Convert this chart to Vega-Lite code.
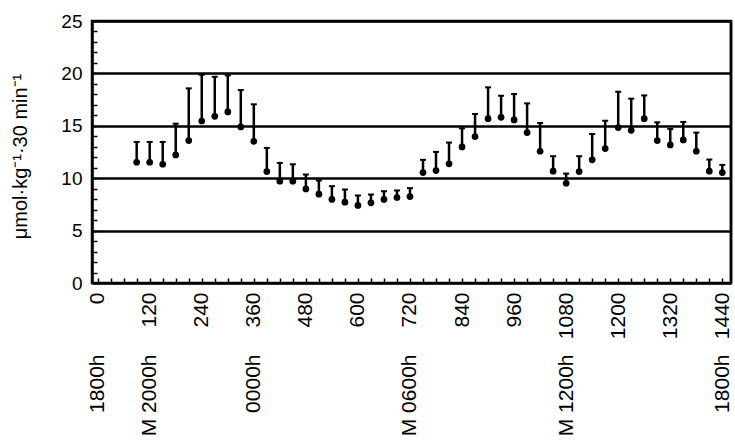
{
  "$schema": "https://vega.github.io/schema/vega-lite/v6.json",
  "width": 639,
  "height": 262,
  "autosize": {"type": "none"},
  "padding": {"left": 92, "top": 21, "right": 4, "bottom": 163},
  "background": "white",
  "config": {
    "view": {"stroke": "black", "strokeWidth": 2.5},
    "font": "Liberation Sans",
    "axis": {"labelColor": "black", "titleColor": "black", "labelFont": "Liberation Sans", "titleFont": "Liberation Sans", "tickColor": "black", "domainColor": "black"}
  },
  "data": {
    "values": [
      {"t": 90, "mean": 11.52, "upper": 13.46},
      {"t": 120, "mean": 11.52, "upper": 13.46},
      {"t": 150, "mean": 11.33, "upper": 13.46},
      {"t": 180, "mean": 12.22, "upper": 15.2},
      {"t": 210, "mean": 13.59, "upper": 18.57},
      {"t": 240, "mean": 15.46, "upper": 19.87},
      {"t": 270, "mean": 15.9, "upper": 19.68},
      {"t": 300, "mean": 16.32, "upper": 19.81},
      {"t": 330, "mean": 14.89, "upper": 18.41},
      {"t": 360, "mean": 13.52, "upper": 17.05},
      {"t": 390, "mean": 10.63, "upper": 12.89},
      {"t": 420, "mean": 9.71, "upper": 11.46},
      {"t": 450, "mean": 9.71, "upper": 11.33},
      {"t": 480, "mean": 8.98, "upper": 10.35},
      {"t": 510, "mean": 8.48, "upper": 9.78},
      {"t": 540, "mean": 7.97, "upper": 9.24},
      {"t": 570, "mean": 7.71, "upper": 8.92},
      {"t": 600, "mean": 7.4, "upper": 8.35},
      {"t": 630, "mean": 7.65, "upper": 8.44},
      {"t": 660, "mean": 7.97, "upper": 8.76},
      {"t": 690, "mean": 8.16, "upper": 8.83},
      {"t": 720, "mean": 8.25, "upper": 9.05},
      {"t": 750, "mean": 10.54, "upper": 11.75},
      {"t": 780, "mean": 10.73, "upper": 12.51},
      {"t": 810, "mean": 11.37, "upper": 13.4},
      {"t": 840, "mean": 12.98, "upper": 14.76},
      {"t": 870, "mean": 13.97, "upper": 16.13},
      {"t": 900, "mean": 15.68, "upper": 18.67},
      {"t": 930, "mean": 15.81, "upper": 17.87},
      {"t": 960, "mean": 15.56, "upper": 18.03},
      {"t": 990, "mean": 14.35, "upper": 17.14},
      {"t": 1020, "mean": 12.57, "upper": 15.27},
      {"t": 1050, "mean": 10.67, "upper": 12.1},
      {"t": 1080, "mean": 9.52, "upper": 10.44},
      {"t": 1110, "mean": 10.63, "upper": 12.1},
      {"t": 1140, "mean": 11.75, "upper": 14.22},
      {"t": 1170, "mean": 12.83, "upper": 15.49},
      {"t": 1200, "mean": 14.83, "upper": 18.25},
      {"t": 1230, "mean": 14.57, "upper": 17.59},
      {"t": 1260, "mean": 15.68, "upper": 17.9},
      {"t": 1290, "mean": 13.59, "upper": 15.33},
      {"t": 1320, "mean": 13.17, "upper": 14.7},
      {"t": 1350, "mean": 13.65, "upper": 15.37},
      {"t": 1380, "mean": 12.57, "upper": 14.35},
      {"t": 1410, "mean": 10.67, "upper": 11.78},
      {"t": 1440, "mean": 10.54, "upper": 11.27}
    ]
  },
  "layer": [
    {
      "mark": {"type": "rule", "color": "black", "strokeWidth": 2.5},
      "encoding": {
        "x": {
          "field": "t", "type": "quantitative",
          "scale": {"domain": [-13, 1460], "nice": false, "zero": false},
          "axis": {
            "orient": "bottom",
            "title": null,
            "values": [0,30,60,90,120,150,180,210,240,270,300,330,360,390,420,450,480,510,540,570,600,630,660,690,720,750,780,810,840,870,900,930,960,990,1020,1050,1080,1110,1140,1170,1200,1230,1260,1290,1320,1350,1380,1410,1440],
            "tickCount": 500,
            "format": "d",
            "labelExpr": "datum.value % 120 === 0 ? datum.label : ''",
            "labelAngle": -90,
            "labelFontSize": 21,
            "labelPadding": 14,
            "labelOverlap": false,
            "labelFlush": false,
            "ticks": true,
            "tickSize": -5,
            "tickWidth": 1.5,
            "domain": true,
            "domainWidth": 2.5,
            "grid": false
          }
        },
        "y": {
          "field": "mean", "type": "quantitative",
          "scale": {"domain": [0, 25], "nice": false, "zero": true},
          "axis": {
            "orient": "left",
            "title": "μmol·kg⁻¹·30 min⁻¹",
            "titleFontSize": 20,
            "titleFontWeight": "normal",
            "titleAngle": -90,
            "titleX": -72,
            "titleY": 135,
            "titleAlign": "center",
            "titleBaseline": "middle",
            "values": [0,1,2,3,4,5,6,7,8,9,10,11,12,13,14,15,16,17,18,19,20,21,22,23,24,25],
            "tickCount": 500,
            "format": "d",
            "labelExpr": "datum.value % 5 === 0 ? datum.label : ''",
            "labelFontSize": 19,
            "labelPadding": 15,
            "labelOverlap": false,
            "labelFlush": false,
            "ticks": true,
            "tickSize": -5,
            "tickWidth": 1.5,
            "domain": true,
            "domainWidth": 2.5,
            "grid": true,
            "gridColor": "black",
            "gridWidth": 2.5,
            "gridOpacity": {"condition": {"test": "datum.value % 5 === 0 && datum.value > 0", "value": 1}, "value": 0}
          }
        },
        "y2": {"field": "upper"}
      }
    },
    {
      "mark": {"type": "tick", "orient": "horizontal", "color": "black", "thickness": 2, "size": 6, "opacity": 1},
      "encoding": {
        "x": {"field": "t", "type": "quantitative", "axis": null},
        "y": {"field": "upper", "type": "quantitative", "axis": null}
      }
    },
    {
      "mark": {"type": "point", "filled": true, "color": "black", "size": 45, "opacity": 1},
      "encoding": {
        "x": {
          "field": "t", "type": "quantitative",
          "axis": {
            "orient": "bottom",
            "title": null,
            "values": [0, 120, 360, 720, 1080, 1440],
            "tickCount": 500,
            "labelExpr": "datum.value === 0 ? '1800h' : datum.value === 120 ? 'M 2000h' : datum.value === 360 ? '0000h' : datum.value === 720 ? 'M 0600h' : datum.value === 1080 ? 'M 1200h' : '1800h'",
            "labelAngle": -90,
            "labelFontSize": 21,
            "labelPadding": 71,
            "labelOverlap": false,
            "labelFlush": false,
            "ticks": false,
            "domain": false,
            "grid": false
          }
        },
        "y": {"field": "mean", "type": "quantitative", "axis": null}
      }
    },
    {
      "data": {"values": [{}]},
      "mark": {"type": "rule", "color": "black", "strokeWidth": 2.5},
      "encoding": {
        "x": {"datum": 1460, "type": "quantitative", "axis": null}
      }
    }
  ],
  "resolve": {"axis": {"x": "independent", "y": "independent"}}
}
